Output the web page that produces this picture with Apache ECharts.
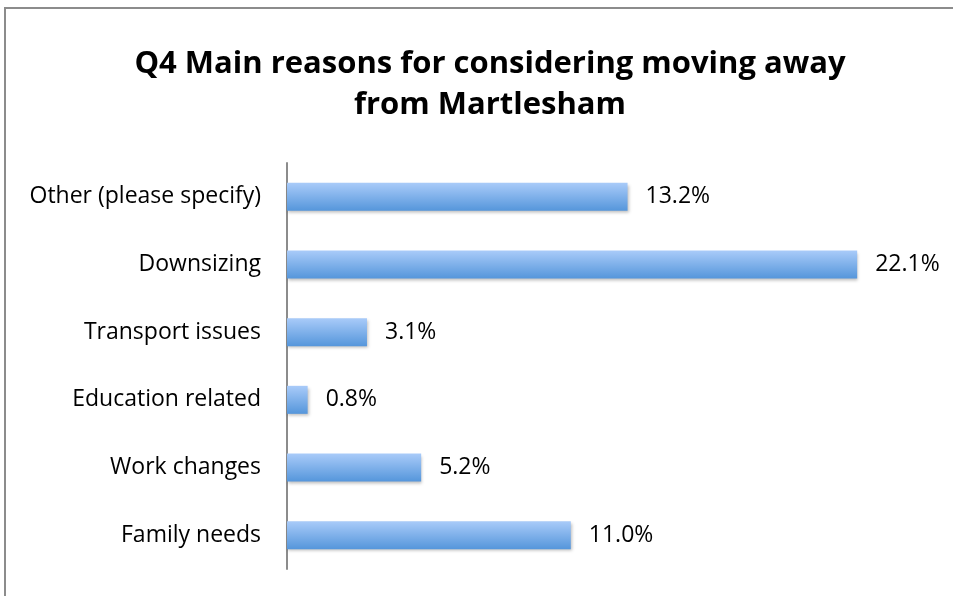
<!DOCTYPE html>
<html>
<head>
<meta charset="utf-8">
<script src="https://cdn.jsdelivr.net/npm/echarts@6/dist/echarts.min.js"></script>
<style>
  html, body { margin: 0; padding: 0; background: #fff; }
  #chart { width: 953px; height: 596px; }
</style>
</head>
<body>
<div id="chart"></div>
<script>
// top to bottom as shown
const categories = ['Other (please specify)', 'Downsizing', 'Transport issues', 'Education related', 'Work changes', 'Family needs'];
const values = [13.2, 22.1, 3.1, 0.8, 5.2, 11.0];

const myChart = echarts.init(document.getElementById('chart'));

const option = {
  animation: false,
  title: {
    text: 'Q4 Main reasons for considering moving away\nfrom Martlesham',
    left: 485,
    textAlign: 'center',
    top: 39,
    textStyle: {
      fontFamily: 'Open Sans',
      fontWeight: 'bold',
      fontSize: 31,
      lineHeight: 41,
      color: '#000'
    }
  },
  graphic: [{
    type: 'rect',
    shape: { x: 5, y: 8, width: 960, height: 600 },
    style: { fill: 'none', stroke: '#8c8c8c', lineWidth: 2 }
  }],
  grid: {
    left: 287,
    right: 21,
    top: 163,
    bottom: 27
  },
  xAxis: {
    type: 'value',
    min: 0,
    max: 25,
    show: false
  },
  yAxis: {
    type: 'category',
    inverse: true,
    data: categories,
    axisLine: { lineStyle: { color: '#8c8c8c', width: 2 } },
    axisTick: { show: false },
    axisLabel: {
      margin: 26,
      padding: [5, 0, 0, 0],
      fontFamily: 'Open Sans',
      fontSize: 23,
      color: '#000'
    }
  },
  series: [{
    type: 'bar',
    data: values,
    barWidth: 28,
    itemStyle: {
      color: new echarts.graphic.LinearGradient(0, 0, 0, 1, [
        { offset: 0, color: '#a9cbf9' },
        { offset: 1, color: '#5596db' }
      ]),
      shadowColor: 'rgba(0,0,0,0.25)',
      shadowBlur: 3,
      shadowOffsetX: 1,
      shadowOffsetY: 2
    },
    label: {
      show: true,
      position: 'right',
      distance: 18,
      padding: [5, 0, 0, 0],
      fontFamily: 'Open Sans',
      fontSize: 23,
      color: '#000',
      formatter: p => p.value.toFixed(1) + '%'
    }
  }]
};

myChart.setOption(option);
</script>
</body>
</html>
